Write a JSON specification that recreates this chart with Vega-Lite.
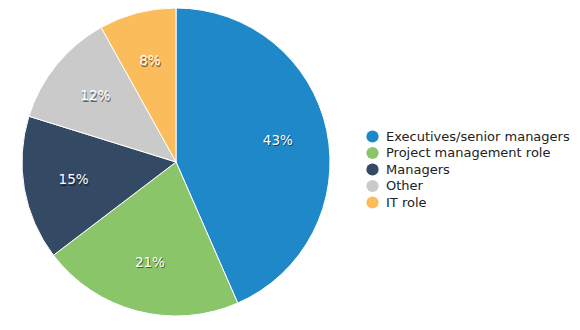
{
  "$schema": "https://vega.github.io/schema/vega-lite/v6.json",
  "width": 352,
  "height": 324,
  "padding": 0,
  "autosize": {"type": "pad"},
  "background": "white",
  "data": {
    "values": [
      {"role": "Executives/senior managers", "pct": 43, "label": "43%", "idx": 1},
      {"role": "Project management role", "pct": 21, "label": "21%", "idx": 2},
      {"role": "Managers", "pct": 15, "label": "15%", "idx": 3},
      {"role": "Other", "pct": 12, "label": "12%", "idx": 4},
      {"role": "IT role", "pct": 8, "label": "8%", "idx": 5}
    ]
  },
  "encoding": {
    "theta": {"field": "pct", "type": "quantitative", "stack": true},
    "order": {"field": "idx", "type": "quantitative", "sort": "ascending"},
    "color": {
      "field": "role",
      "type": "nominal",
      "sort": ["Executives/senior managers", "Project management role", "Managers", "Other", "IT role"],
      "scale": {
        "domain": ["Executives/senior managers", "Project management role", "Managers", "Other", "IT role"],
        "range": ["#1f88c8", "#8bc56a", "#344964", "#cacaca", "#fbbc5c"]
      },
      "legend": {
        "title": null,
        "orient": "none",
        "legendX": 366,
        "legendY": 130,
        "symbolType": "circle",
        "symbolSize": 150,
        "symbolStrokeWidth": 0,
        "labelFont": "DejaVu Sans",
        "labelFontSize": 13,
        "labelColor": "#222222",
        "labelOffset": 7,
        "rowPadding": 2.5,
        "labelLimit": 300
      }
    }
  },
  "layer": [
    {
      "mark": {"type": "arc", "outerRadius": 154, "stroke": "white", "strokeWidth": 1}
    },
    {
      "mark": {"type": "text", "radius": 104, "font": "DejaVu Sans", "fontSize": 13.5, "fill": "#000000", "opacity": 0.5, "dx": 1, "dy": 1.5},
      "encoding": {"text": {"field": "label"}, "color": {"value": "#000000"}}
    },
    {
      "mark": {"type": "text", "radius": 104, "font": "DejaVu Sans", "fontSize": 13.5, "fill": "white"},
      "encoding": {"text": {"field": "label"}, "color": {"value": "white"}}
    }
  ],
  "config": {"view": {"stroke": null}}
}
